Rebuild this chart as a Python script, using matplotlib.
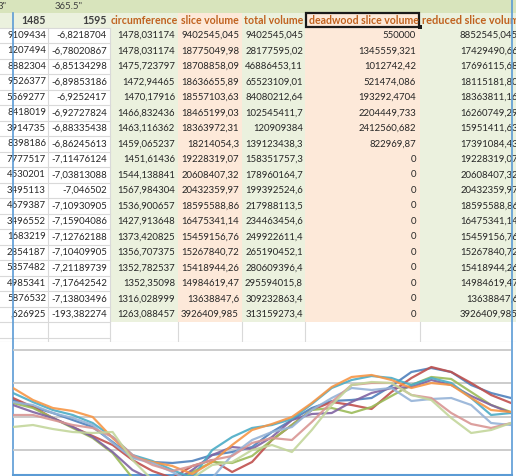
import matplotlib.pyplot as plt
from matplotlib.patches import Rectangle

# ---- table data (as shown in the sheet) ----
top_row = ['3"', '365.5"']
headers = ['1485', '1595', 'circumference', 'slice volume', 'total volume',
           'deadwood slice volume', 'reduced slice volume']

col_a = ['9109434', '1207494', '8882304', '9526377', '5569277', '8418019', '3914735',
         '8398186', '7777517', '4530201', '3495113', '4679387', '3496552', '1683219',
         '2854187', '5357482', '4985341', '5876532', ',626925']
col_b = ['-6,8218704', '-6,78020867', '-6,85134298', '-6,89853186', '-6,9252417',
         '-6,92727824', '-6,88335438', '-6,86245613', '-7,11476124', '-7,03813088',
         '-7,046502', '-7,10930905', '-7,15904086', '-7,12762188', '-7,10409905',
         '-7,21189739', '-7,17642542', '-7,13803496', '-193,382274']
circumference = ['1478,031174', '1478,031174', '1475,723797', '1472,94465', '1470,17916',
                 '1466,832436', '1463,116362', '1459,065237', '1451,61436', '1544,138841',
                 '1567,984304', '1536,900657', '1427,913648', '1373,420825', '1356,707375',
                 '1352,782537', '1352,35098', '1316,028999', '1263,088457']
slice_volume = ['9402545,045', '18775049,98', '18708858,09', '18636655,89', '18557103,63',
                '18465199,03', '18363972,31', '18214054,3', '19228319,07', '20608407,32',
                '20432359,97', '18595588,86', '16475341,14', '15459156,76', '15267840,72',
                '15418944,26', '14984619,47', '13638847,6', '3926409,985']
total_volume = ['9402545,045', '28177595,02', '46886453,11', '65523109,01', '84080212,64',
                '102545411,7', '120909384', '139123438,3', '158351757,3', '178960164,7',
                '199392524,6', '217988113,5', '234463454,6', '249922611,4', '265190452,1',
                '280609396,4', '295594015,8', '309232863,4', '313159273,4']
deadwood = ['550000', '1345559,321', '1012742,42', '521474,086', '193292,4704',
            '2204449,733', '2412560,682', '822969,87'] + ['0'] * 11
reduced = ['8852545,045', '17429490,66', '17696115,68', '18115181,80', '18363811,16',
           '16260749,29', '15951411,63', '17391084,43', '19228319,07', '20608407,32',
           '20432359,97', '18595588,86', '16475341,14', '15459156,76', '15267840,72',
           '15418944,26', '14984619,47', '13638847,6', '3926409,985']

# ---- chart data: profiles ----
profile_x = list(range(26))
profiles = {
    'blue':       [1300, 1258, 1222, 1180, 1138, 1048, 958, 928, 922, 934, 970, 988, 1018,
                   1108, 1180, 1252, 1294, 1300, 1312, 1384, 1468, 1492, 1468, 1390, 1342, 1312],
    'red':        [1312, 1258, 1192, 1138, 1084, 1030, 940, 874, 832, 904, 940, 868, 928,
                   1060, 1150, 1240, 1288, 1270, 1246, 1348, 1432, 1498, 1468, 1402, 1330, 1282],
    'green':      [1282, 1252, 1192, 1132, 1072, 982, 832, 790, 790, 868, 928, 922, 964,
                   1060, 1150, 1240, 1252, 1222, 1258, 1324, 1390, 1438, 1426, 1348, 1270, 1228],
    'purple':     [1270, 1228, 1192, 1138, 1078, 988, 880, 820, 808, 880, 970, 1018, 1006,
                   1078, 1180, 1216, 1222, 1288, 1342, 1372, 1378, 1420, 1390, 1324, 1270, 1222],
    'aqua':       [1342, 1288, 1240, 1210, 1162, 1078, 970, 934, 880, 832, 1000, 1078, 1132,
                   1150, 1186, 1276, 1372, 1420, 1444, 1432, 1390, 1432, 1402, 1312, 1210, 1222],
    'orange':     [1372, 1300, 1252, 1234, 1198, 1072, 958, 928, 904, 856, 928, 1030, 1120,
                   1156, 1198, 1282, 1378, 1438, 1450, 1420, 1372, 1402, 1390, 1312, 1240, 1228],
    'light blue': [1288, 1270, 1222, 1192, 1150, 1042, 952, 922, 868, 808, 832, 970, 1060,
                   1108, 1138, 1240, 1312, 1372, 1360, 1372, 1294, 1306, 1312, 1270, 1162, 1150],
    'light red':  [1210, 1210, 1180, 1150, 1132, 1078, 970, 910, 874, 904, 940, 964, 1042,
                   1072, 1060, 1168, 1288, 1390, 1402, 1402, 1330, 1312, 1222, 1156, 1132, 1162],
    'light green': [1138, 1150, 1126, 1108, 1102, 1108, 940, 820, 772, 832, 910, 928, 1000,
                    1030, 988, 1120, 1270, 1390, 1408, 1402, 1330, 1300, 1192, 1102, 1120, 1162],
}
line_colors = {
    'blue': '#4f81bd', 'red': '#c0504d', 'green': '#9bbb59', 'purple': '#8064a2',
    'aqua': '#4bacc6', 'orange': '#f79646', 'light blue': '#95b3d7',
    'light red': '#d99694', 'light green': '#c3d69b',
}

W, H = 516, 476
plt.rcParams['font.family'] = ['Lato', 'DejaVu Sans']
fig = plt.figure(figsize=(W / 100, H / 100), dpi=100)
ax = fig.add_axes([0, 0, 1, 1])
ax.set_xlim(0, W)
ax.set_ylim(H, 0)
ax.axis('off')

GREEN = '#ebf1de'
PEACH = '#fde9d9'
TOP_GREEN = '#d8e4bc'
GRID = '#d9d9d9'
HEAD = '#c0621f'
TXT = '#262626'
FS_HEAD = 7.6
FS = 6.9

row0_top, head_top, row_h = 0, 12.5, 15.5
data_top = head_top + 15
n = len(col_a)
table_bottom = data_top + n * row_h

# top green row and header row background
ax.add_patch(Rectangle((0, row0_top), W, head_top, color=TOP_GREEN, lw=0))
ax.add_patch(Rectangle((0, head_top), 110, data_top - head_top, color=GREEN, lw=0))

# gridlines for plain columns A/B
for k in range(n + 2):
    y = data_top + k * row_h
    ax.plot([0, 110], [y, y], color=GRID, lw=0.8)
ax.plot([0, 516], [table_bottom + row_h + 4, table_bottom + row_h + 4], color=GRID, lw=0.8)
for x in [48, 110]:
    ax.plot([x, x], [data_top, table_bottom + row_h + 4], color=GRID, lw=0.8)
for x in [178, 242, 305, 420]:
    ax.plot([x, x], [table_bottom, table_bottom + row_h + 4], color=GRID, lw=0.8)

# coloured column fills
col_spans = [(110, 178, GREEN), (178, 242, PEACH), (242, 305, GREEN),
             (305, 420, PEACH), (420, W, GREEN)]
for x0, x1, c in col_spans:
    ax.add_patch(Rectangle((x0, head_top), x1 - x0, table_bottom - head_top, color=c, lw=0))

ax.text(-2, 6.5, top_row[0], fontsize=FS, color='#3f3f3f', va='center', ha='left')
ax.text(55, 6.5, top_row[1], fontsize=FS, color='#3f3f3f', va='center', ha='left')

hy = (head_top + data_top) / 2
ax.text(46, hy, headers[0], fontsize=FS_HEAD, color='#3f3f3f', fontweight='bold', ha='right', va='center')
ax.text(107, hy, headers[1], fontsize=FS_HEAD, color='#3f3f3f', fontweight='bold', ha='right', va='center')
head_x = [111, 181, 244, 309, 422]
clip = Rectangle((0, 0), 511, H, transform=ax.transData)
for hx, h in zip(head_x, headers[2:]):
    t = ax.text(hx, hy, h, fontsize=FS_HEAD + (0.3 if hx == 422 else 0), color=HEAD,
                fontweight='bold', ha='left', va='center')
    t.set_clip_path(clip)

# selected cell border
ax.add_patch(Rectangle((306, head_top + 0.5), 113, data_top - head_top - 1,
                       fill=False, ec='#1a1a1a', lw=1.6))
ax.add_patch(Rectangle((417.5, data_top - 2.5), 4, 4, color='#1a1a1a', lw=0))

columns = [(col_a, 46), (col_b, 107), (circumference, 175), (slice_volume, 239),
           (total_volume, 303), (deadwood, 416), (reduced, 518)]
for values, right in columns:
    for k, v in enumerate(values):
        y = data_top + (k + 0.5) * row_h
        t = ax.text(right, y, v, fontsize=FS, color=TXT, ha='right', va='center')
        t.set_clip_path(clip)

# ---- line chart below the table ----
chart_top = 342
ax.add_patch(Rectangle((0, chart_top), W, H - chart_top, color='white', lw=0, zorder=3))
cax = fig.add_axes([13 / W, 0, (511 - 13) / W, (H - chart_top) / H])
cax.set_xlim(0, 25)
cax.set_ylim(844, 1648)
cax.set_facecolor('none')
for g in [1000, 1200, 1400, 1600]:
    cax.axhline(g, color='#c8c8c8', lw=1.3, zorder=0)
for name, ys in profiles.items():
    cax.plot(profile_x, ys, color=line_colors[name], lw=1.6, alpha=0.9,
             solid_joinstyle='round')
cax.set_xticks([])
cax.set_yticks([])
for s in cax.spines.values():
    s.set_visible(False)

# blue frame
ax.plot([13, 13], [head_top, H], color='#5b9bd5', lw=1.2, zorder=5)
ax.plot([511.5, 511.5], [0, H], color='#5b9bd5', lw=1.2, zorder=5)
ax.plot([13, 511.5], [475, 475], color='#5b9bd5', lw=1.5, zorder=5)

fig.savefig('out.png', dpi=100)
